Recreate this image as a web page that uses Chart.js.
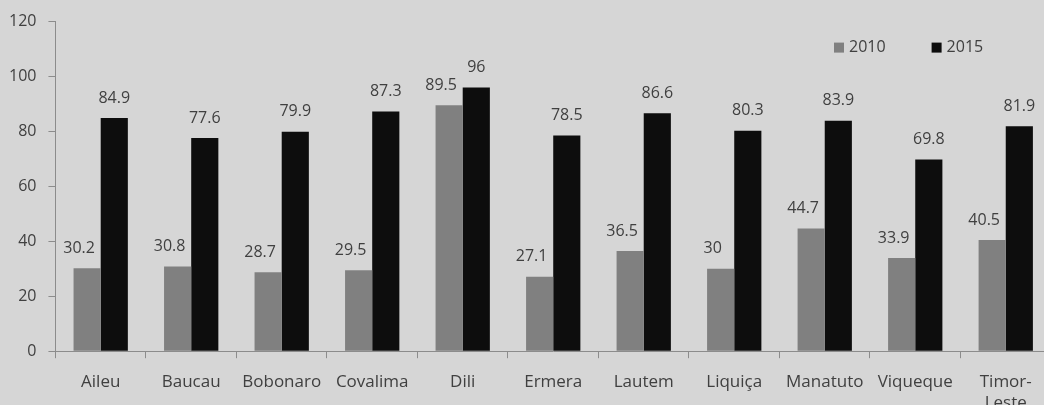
<!DOCTYPE html>
<html>
<head>
<meta charset="utf-8">
<script src="https://cdn.jsdelivr.net/npm/chart.js@4"></script>
<style>
  html, body { margin: 0; padding: 0; background: #d6d6d6; overflow: hidden; }
  #wrap { position: absolute; left: 0; top: 0; width: 1052px; height: 427px; }
</style>
</head>
<body>
<div id="wrap"><canvas id="bar-chart"></canvas></div>
<script>
const districts = ['Aileu', 'Baucau', 'Bobonaro', 'Covalima', 'Dili', 'Ermera', 'Lautem', 'Liquiça', 'Manatuto', 'Viqueque', ['Timor-', 'Leste']];
const values2010 = [30.2, 30.8, 28.7, 29.5, 89.5, 27.1, 36.5, 30, 44.7, 33.9, 40.5];
const values2015 = [84.9, 77.6, 79.9, 87.3, 96, 78.5, 86.6, 80.3, 83.9, 69.8, 81.9];
const yTicks = [0, 20, 40, 60, 80, 100, 120];

const textColor = '#404040';
const axisColor = '#8c8c8c';
const fontFamily = '"Open Sans", sans-serif';

// values written above each bar
const valueLabels = {
    id: 'valueLabels',
    afterDatasetsDraw(chart) {
        const ctx = chart.ctx;
        ctx.save();
        ctx.font = '16px ' + fontFamily;
        ctx.fillStyle = textColor;
        ctx.textAlign = 'center';
        ctx.textBaseline = 'middle';
        chart.data.datasets.forEach((ds, i) => {
            const meta = chart.getDatasetMeta(i);
            const shift = i === 0 ? -8 : 0;
            meta.data.forEach((bar, j) => {
                ctx.fillText(String(ds.data[j]), bar.x + shift, bar.y - 20);
            });
        });
        ctx.restore();
    }
};

// small legend in the upper right corner of the plot
const cornerLegend = {
    id: 'cornerLegend',
    afterDraw(chart) {
        const ctx = chart.ctx;
        const area = chart.chartArea;
        let x = area.right - 217;
        const y = area.top + 26;
        ctx.save();
        ctx.font = '16px ' + fontFamily;
        ctx.textBaseline = 'middle';
        ctx.textAlign = 'left';
        chart.data.datasets.forEach(ds => {
            ctx.fillStyle = ds.backgroundColor;
            ctx.fillRect(x, y - 5, 10, 10);
            ctx.fillStyle = textColor;
            ctx.fillText(ds.label, x + 15, y);
            x += 15 + ctx.measureText(ds.label).width + 46;
        });
        ctx.restore();
    }
};

const data = {
    labels: districts,
    datasets: [
        {
            label: '2010',
            data: values2010,
            backgroundColor: '#808080',
            borderWidth: 0
        },
        {
            label: '2015',
            data: values2015,
            backgroundColor: '#0d0d0d',
            borderWidth: 0
        }
    ]
};

const configBar = {
    type: 'bar',
    data: data,
    options: {
        responsive: true,
        maintainAspectRatio: false,
        animation: false,
        categoryPercentage: 0.6,
        barPercentage: 1.0,
        layout: { padding: { top: 8, left: -3, right: 1, bottom: 0 } },
        plugins: {
            tooltip: { enabled: false },
            legend: { display: false }
        },
        scales: {
            x: {
                grid: {
                    display: true,
                    offset: true,
                    drawOnChartArea: false,
                    tickLength: 7,
                    color: axisColor
                },
                border: { color: axisColor, width: 1 },
                ticks: {
                    color: textColor,
                    padding: 14,
                    maxRotation: 0,
                    autoSkip: false,
                    font: { family: fontFamily, size: 17 }
                }
            },
            y: {
                min: 0,
                max: 120,
                afterBuildTicks(scale) {
                    scale.ticks = yTicks.map(v => ({ value: v }));
                },
                grid: {
                    display: true,
                    drawOnChartArea: false,
                    tickLength: 7,
                    color: axisColor
                },
                border: { color: axisColor, width: 1 },
                ticks: {
                    color: textColor,
                    padding: 12,
                    font: { family: fontFamily, size: 16 }
                }
            }
        }
    },
    plugins: [valueLabels, cornerLegend]
};

const barChart = document.querySelector('#bar-chart');
if (barChart) {
    const barChartOb = new Chart(barChart, configBar);
}
</script>
</body>
</html>
